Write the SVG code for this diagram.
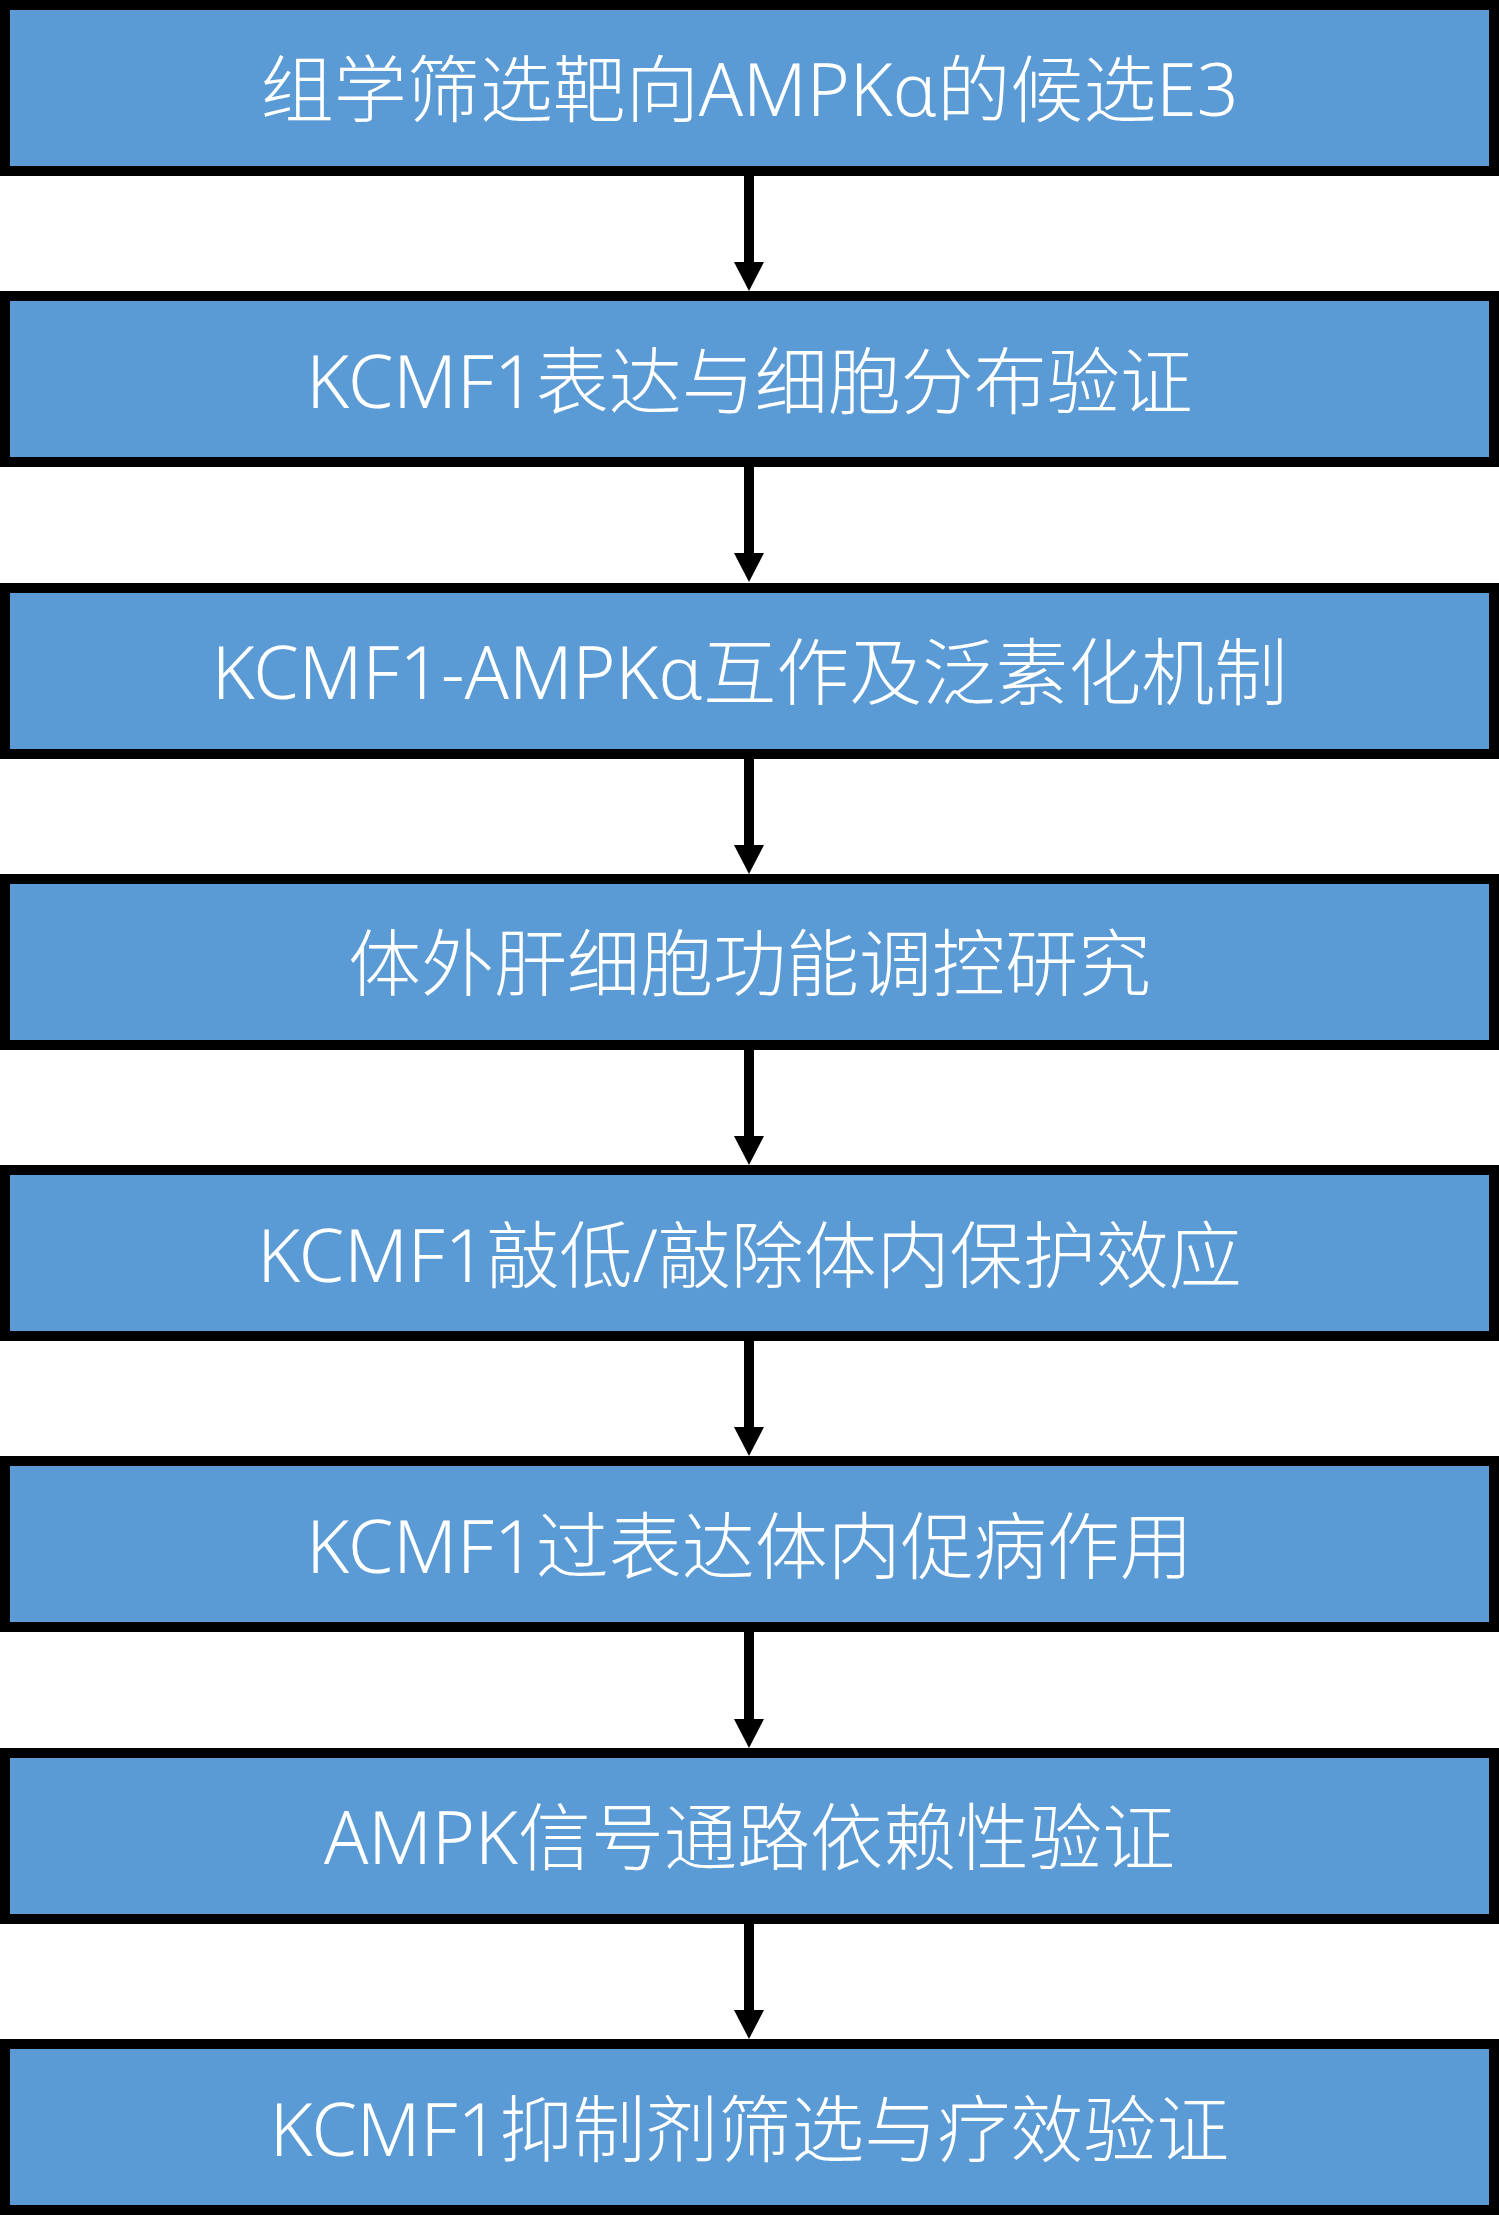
<svg xmlns="http://www.w3.org/2000/svg" width="1499" height="2215" viewBox="0 0 1499 2215">
<style>
.box{fill:#5B9BD5;stroke:#000;stroke-width:10}
.lbl{fill:#fff;font-family:"Noto Sans","Noto Sans CJK SC",sans-serif;font-size:73px;font-weight:300;text-anchor:middle}
.conn{stroke:#000;stroke-width:10;fill:none;marker-end:url(#ah)}
</style>
<defs>
<marker id="ah" markerUnits="userSpaceOnUse" markerWidth="30" markerHeight="30" viewBox="0 -15 30 30" refX="1" refY="0" orient="auto">
<path d="M0,-15 L29,0 L0,15 Z" fill="#000"/>
</marker>
</defs>
<rect width="1499" height="2215" fill="#fff"/>
<g id="connectors">
<line class="conn" x1="749" y1="175" x2="749" y2="263"/>
<line class="conn" x1="749" y1="466" x2="749" y2="554"/>
<line class="conn" x1="749" y1="758" x2="749" y2="846"/>
<line class="conn" x1="749" y1="1049" x2="749" y2="1137"/>
<line class="conn" x1="749" y1="1340" x2="749" y2="1428"/>
<line class="conn" x1="749" y1="1632" x2="749" y2="1720"/>
<line class="conn" x1="749" y1="1923" x2="749" y2="2011"/>
</g>
<g id="n1"><rect class="box" x="5" y="5" width="1489" height="166"/><text class="lbl" x="749.5" y="116">组学筛选靶向AMPKα的候选E3</text></g>
<g id="n2"><rect class="box" x="5" y="296" width="1489" height="166"/><text class="lbl" x="749.5" y="408">KCMF1表达与细胞分布验证</text></g>
<g id="n3"><rect class="box" x="5" y="588" width="1489" height="166"/><text class="lbl" x="749.5" y="699">KCMF1-AMPKα互作及泛素化机制</text></g>
<g id="n4"><rect class="box" x="5" y="879" width="1489" height="166"/><text class="lbl" x="749.5" y="990">体外肝细胞功能调控研究</text></g>
<g id="n5"><rect class="box" x="5" y="1170" width="1489" height="166"/><text class="lbl" x="749.5" y="1282">KCMF1敲低/敲除体内保护效应</text></g>
<g id="n6"><rect class="box" x="5" y="1461" width="1489" height="166"/><text class="lbl" x="749.5" y="1573">KCMF1过表达体内促病作用</text></g>
<g id="n7"><rect class="box" x="5" y="1753" width="1489" height="166"/><text class="lbl" x="749.5" y="1864">AMPK信号通路依赖性验证</text></g>
<g id="n8"><rect class="box" x="5" y="2044" width="1489" height="166"/><text class="lbl" x="749.5" y="2156">KCMF1抑制剂筛选与疗效验证</text></g>
</svg>
